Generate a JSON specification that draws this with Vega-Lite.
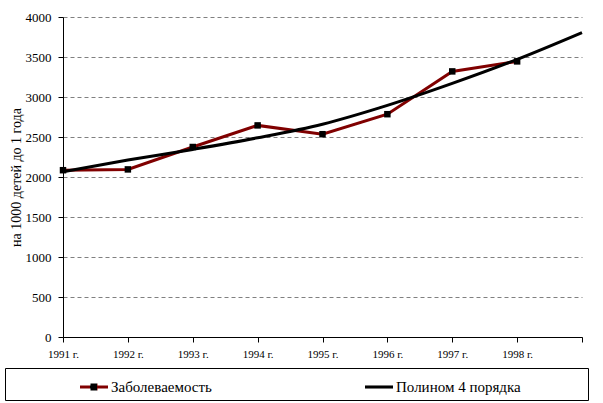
{
  "$schema": "https://vega.github.io/schema/vega-lite/v6.json",
  "width": 519,
  "height": 320,
  "autosize": "none",
  "padding": {"left": 63, "top": 17, "right": 21, "bottom": 66},
  "background": "white",
  "config": {
    "view": {"stroke": null},
    "font": "Liberation Serif",
    "style": {"guide-label": {"font": "Liberation Serif"}, "guide-title": {"font": "Liberation Serif"}}
  },
  "data": {
    "values": [
      {"year": 1991, "value": 2085, "series": "Заболеваемость"},
      {"year": 1992, "value": 2095, "series": "Заболеваемость"},
      {"year": 1993, "value": 2375, "series": "Заболеваемость"},
      {"year": 1994, "value": 2645, "series": "Заболеваемость"},
      {"year": 1995, "value": 2535, "series": "Заболеваемость"},
      {"year": 1996, "value": 2785, "series": "Заболеваемость"},
      {"year": 1997, "value": 3320, "series": "Заболеваемость"},
      {"year": 1998, "value": 3445, "series": "Заболеваемость"},
      {"year": 1991, "value": 2066, "series": "Полином 4 порядка"},
      {"year": 1992, "value": 2212, "series": "Полином 4 порядка"},
      {"year": 1993, "value": 2345, "series": "Полином 4 порядка"},
      {"year": 1994, "value": 2490, "series": "Полином 4 порядка"},
      {"year": 1995, "value": 2660, "series": "Полином 4 порядка"},
      {"year": 1996, "value": 2895, "series": "Полином 4 порядка"},
      {"year": 1997, "value": 3170, "series": "Полином 4 порядка"},
      {"year": 1998, "value": 3470, "series": "Полином 4 порядка"},
      {"year": 1999, "value": 3805, "series": "Полином 4 порядка"}
    ]
  },
  "encoding": {
    "x": {
      "field": "year",
      "type": "quantitative",
      "scale": {"domain": [1991, 1999], "nice": false, "zero": false},
      "axis": {
        "title": null,
        "values": [1991, 1992, 1993, 1994, 1995, 1996, 1997, 1998, 1999],
        "labelExpr": "datum.value < 1999 ? format(datum.value, 'd') + ' г.' : ''",
        "grid": false,
        "domainColor": "black",
        "tickColor": "black",
        "tickSize": 5,
        "labelFont": "Liberation Serif",
        "labelFontSize": 11,
        "labelColor": "black",
        "labelPadding": 6,
        "labelFlush": false,
        "labelOverlap": false
      }
    },
    "y": {
      "field": "value",
      "type": "quantitative",
      "scale": {"domain": [0, 4000], "nice": false},
      "axis": {
        "values": [0, 500, 1000, 1500, 2000, 2500, 3000, 3500, 4000],
        "format": "d",
        "title": "на 1000 детей до 1 года",
        "titleFont": "Liberation Serif",
        "titleFontSize": 14,
        "titleFontWeight": "normal",
        "titleColor": "black",
        "titlePadding": 2,
        "labelFont": "Liberation Serif",
        "labelFontSize": 13,
        "labelColor": "black",
        "labelPadding": 7,
        "tickSize": 5,
        "domainColor": "black",
        "tickColor": "black",
        "gridColor": "#808080",
        "gridDash": [4, 3],
        "gridWidth": 1
      }
    },
    "color": {
      "field": "series",
      "type": "nominal",
      "scale": {"domain": ["Заболеваемость", "Полином 4 порядка"], "range": ["#800000", "#000000"]},
      "legend": {
        "orient": "none",
        "legendX": -58,
        "legendY": 351,
        "direction": "horizontal",
        "columns": 2,
        "strokeColor": "black",
        "fillColor": "white",
        "padding": 5,
        "symbolSize": 784,
        "symbolStrokeWidth": 0,
        "symbolOffset": 70,
        "labelOffset": 3,
        "columnPadding": 83,
        "labelFont": "Liberation Serif",
        "labelFontSize": 15,
        "labelColor": "black",
        "labelLimit": 300,
        "title": " ",
        "titleOrient": "right",
        "titlePadding": 62,
        "encode": {
          "symbols": {
            "update": {
              "shape": [
                {"test": "datum.value === 'Заболеваемость'", "value": "M-1,-0.11H1V0.11H-1ZM-0.25,-0.25H0.25V0.25H-0.25Z"},
                {"value": "M-1,-0.11H1V0.11H-1Z"}
              ],
              "fill": [
                {"test": "datum.value === 'Заболеваемость'", "value": {"gradient": "linear", "x1": 0, "y1": 0, "x2": 1, "y2": 0, "stops": [
                  {"offset": 0, "color": "#800000"},
                  {"offset": 0.375, "color": "#800000"},
                  {"offset": 0.375, "color": "#000000"},
                  {"offset": 0.625, "color": "#000000"},
                  {"offset": 0.625, "color": "#800000"},
                  {"offset": 1, "color": "#800000"}
                ]}},
                {"value": "#000000"}
              ],
              "fillOpacity": {"value": 1},
              "opacity": {"value": 1},
              "stroke": {"value": "transparent"},
              "strokeWidth": {"value": 0}
            }
          }
        }
      }
    }
  },
  "layer": [
    {
      "transform": [{"filter": "datum.series === 'Заболеваемость'"}],
      "mark": {"type": "line", "strokeWidth": 3, "clip": false}
    },
    {
      "transform": [{"filter": "datum.series === 'Заболеваемость'"}],
      "mark": {"type": "point", "shape": "square", "filled": true, "size": 42, "opacity": 1, "clip": false},
      "encoding": {"color": {"value": "#000000"}}
    },
    {
      "transform": [{"filter": "datum.series === 'Полином 4 порядка'"}],
      "mark": {"type": "line", "strokeWidth": 3, "interpolate": "monotone", "clip": false}
    }
  ]
}
